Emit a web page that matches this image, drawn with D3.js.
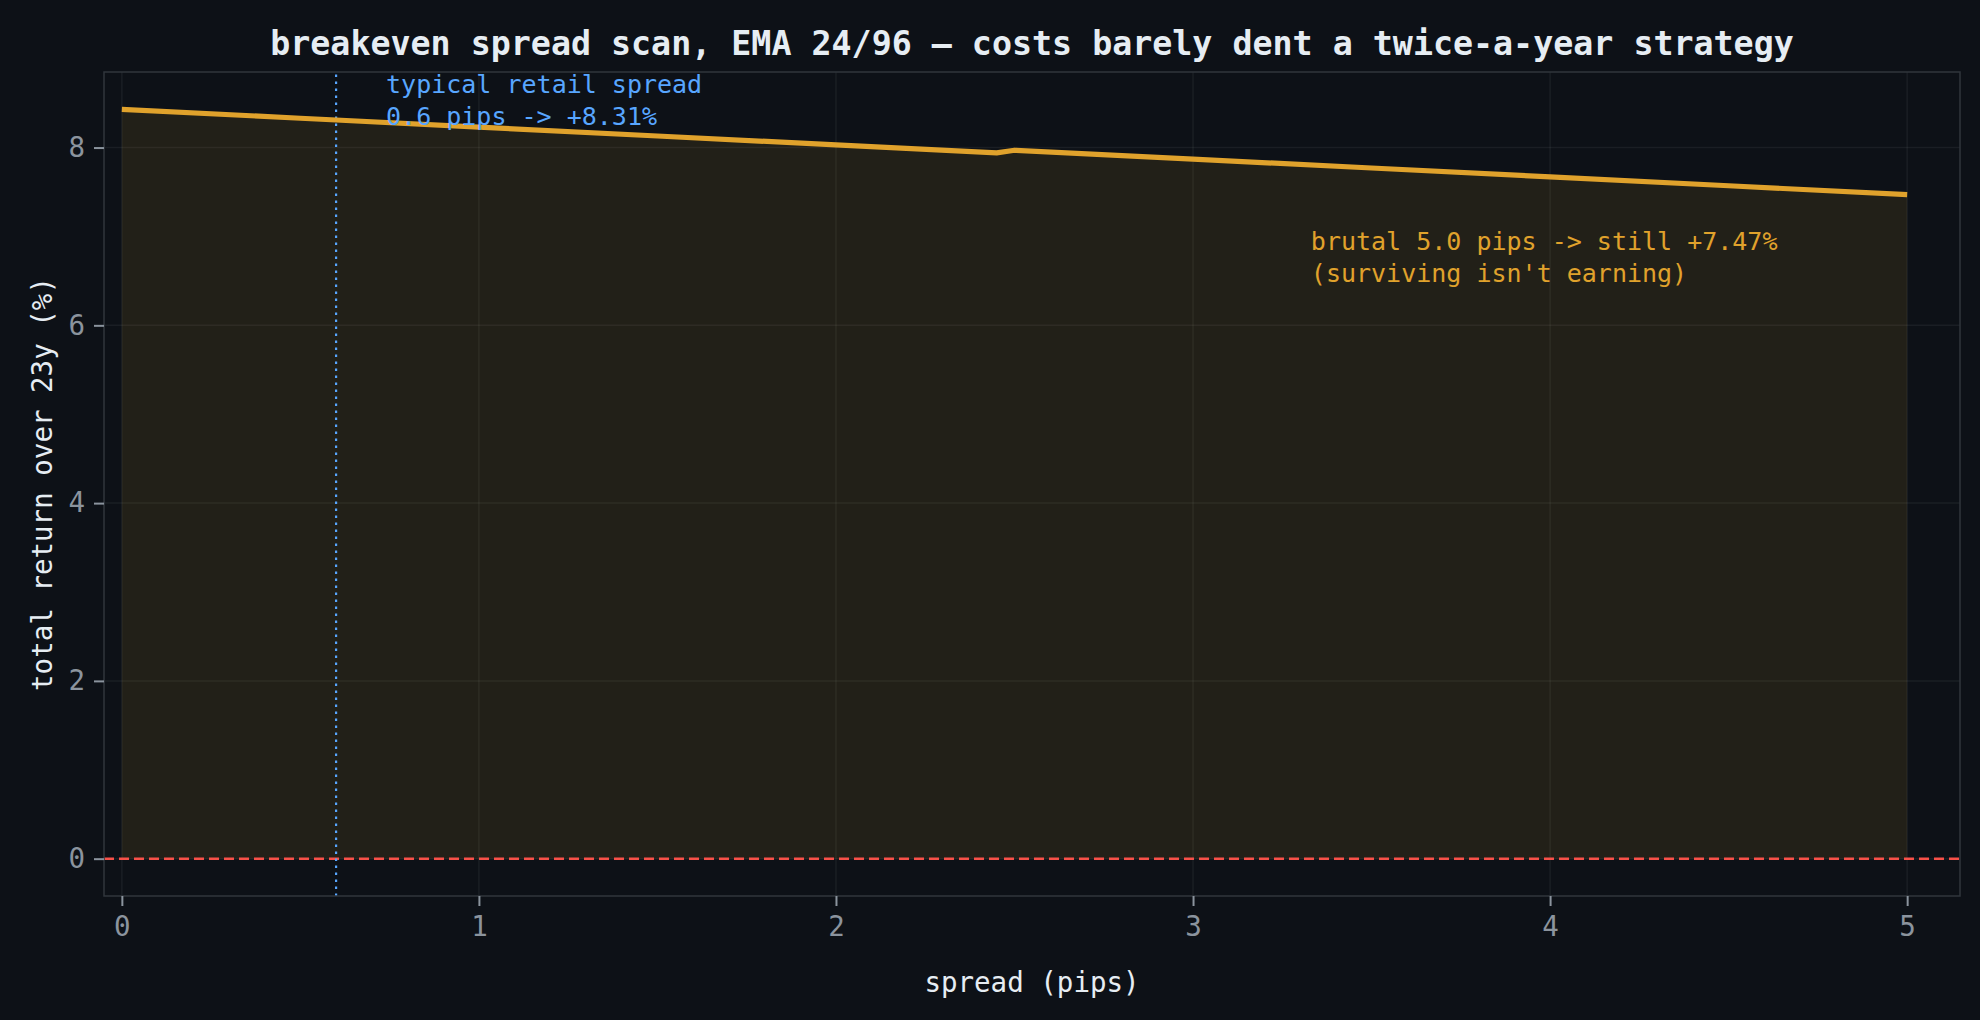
<!DOCTYPE html>
<html>
<head>
<meta charset="utf-8">
<script src="https://cdn.jsdelivr.net/npm/d3@7"></script>
<style>
  html, body { margin: 0; padding: 0; background: #0d1117; }
  svg { display: block; }
</style>
</head>
<body>
<script>
//spread scan values
var spreads = [0, 0.5, 0.6, 1.0, 1.5, 2.0, 2.45, 2.5, 3.0, 3.5, 4.0, 4.5, 5.0];
var returns = [8.43, 8.33, 8.31, 8.23, 8.13, 8.03, 7.94, 7.97, 7.87, 7.77, 7.67, 7.57, 7.47];
var xTicks = [0, 1, 2, 3, 4, 5];
var yTicks = [0, 2, 4, 6, 8];
var typicalSpread = 0.6;

//begin script when window loads
window.onload = drawChart();

function drawChart(){

    var width = 1980,
        height = 1020;

    var margin = {top: 72, right: 20, bottom: 124, left: 104};

    var svg = d3.select('body')
        .append('svg')
        .attr('width', width)
        .attr('height', height)
        .style('font-family', '"DejaVu Sans Mono", "Liberation Mono", monospace');

    svg.append('rect')
        .attr('width', width)
        .attr('height', height)
        .attr('fill', '#0d1117');

    var x = d3.scaleLinear()
        .domain([-0.05, 5.148])
        .range([margin.left, width - margin.right]);

    var y = d3.scaleLinear()
        .domain([-0.42, 8.85])
        .range([height - margin.bottom, margin.top]);

    var data = spreads.map(function(s, i){
        return {s: s, r: returns[i]};
    });

    //grid
    svg.append('g')
        .selectAll('line')
        .data(xTicks)
        .enter()
        .append('line')
        .attr('x1', function(d){ return x(d); })
        .attr('x2', function(d){ return x(d); })
        .attr('y1', y.range()[0])
        .attr('y2', y.range()[1])
        .attr('stroke', '#c9d1d9')
        .attr('stroke-opacity', 0.07)
        .attr('stroke-width', 1.5);

    svg.append('g')
        .selectAll('line')
        .data(yTicks)
        .enter()
        .append('line')
        .attr('x1', x.range()[0])
        .attr('x2', x.range()[1])
        .attr('y1', function(d){ return y(d); })
        .attr('y2', function(d){ return y(d); })
        .attr('stroke', '#c9d1d9')
        .attr('stroke-opacity', 0.07)
        .attr('stroke-width', 1.5);

    //filled area under the curve
    var area = d3.area()
        .x(function(d){ return x(d.s); })
        .y0(y(0))
        .y1(function(d){ return y(d.r); });

    svg.append('path')
        .datum(data)
        .attr('d', area)
        .attr('fill', '#e0a22c')
        .attr('fill-opacity', 0.1);

    //breakeven line at zero
    svg.append('line')
        .attr('x1', x.range()[0])
        .attr('x2', x.range()[1])
        .attr('y1', y(0))
        .attr('y2', y(0))
        .attr('stroke', '#f85149')
        .attr('stroke-width', 2.5)
        .attr('stroke-dasharray', '10,5');

    //typical spread marker
    svg.append('line')
        .attr('x1', x(typicalSpread))
        .attr('x2', x(typicalSpread))
        .attr('y1', y.range()[0])
        .attr('y2', y.range()[1])
        .attr('stroke', '#58a6ff')
        .attr('stroke-width', 2.2)
        .attr('stroke-dasharray', '2.5,4.5');

    //return line
    var line = d3.line()
        .x(function(d){ return x(d.s); })
        .y(function(d){ return y(d.r); });

    svg.append('path')
        .datum(data)
        .attr('d', line)
        .attr('fill', 'none')
        .attr('stroke', '#e0a22c')
        .attr('stroke-width', 5.2)
        .attr('stroke-linejoin', 'round');

    //frame
    svg.append('rect')
        .attr('x', x.range()[0])
        .attr('y', y.range()[1])
        .attr('width', x.range()[1] - x.range()[0])
        .attr('height', y.range()[0] - y.range()[1])
        .attr('fill', 'none')
        .attr('stroke', '#30363d')
        .attr('stroke-width', 1.5);

    //axes
    var xAxis = svg.append('g')
        .attr('transform', 'translate(0,' + y.range()[0] + ')')
        .call(d3.axisBottom(x).tickValues(xTicks).tickSize(10).tickPadding(10).tickFormat(d3.format('d')));

    var yAxis = svg.append('g')
        .attr('transform', 'translate(' + x.range()[0] + ',0)')
        .call(d3.axisLeft(y).tickValues(yTicks).tickSize(10).tickPadding(9).tickFormat(d3.format('d')));

    [xAxis, yAxis].forEach(function(a){
        a.select('.domain').remove();
        a.selectAll('.tick line').attr('stroke', '#8b949e').attr('stroke-width', 2);
        a.selectAll('.tick text')
            .attr('fill', '#8b949e')
            .style('font-size', '27.5px')
            .style('font-family', '"DejaVu Sans Mono", monospace');
    });

    //axis labels
    svg.append('text')
        .attr('x', (x.range()[0] + x.range()[1]) / 2)
        .attr('y', 992)
        .attr('text-anchor', 'middle')
        .attr('fill', '#e6edf3')
        .style('font-size', '27.5px')
        .text('spread (pips)');

    svg.append('text')
        .attr('transform', 'translate(52,' + (y.range()[0] + y.range()[1]) / 2 + ') rotate(-90)')
        .attr('text-anchor', 'middle')
        .attr('fill', '#e6edf3')
        .style('font-size', '27.5px')
        .text('total return over 23y (%)');

    //title
    svg.append('text')
        .attr('x', (x.range()[0] + x.range()[1]) / 2)
        .attr('y', 55)
        .attr('text-anchor', 'middle')
        .attr('fill', '#e6edf3')
        .style('font-size', '33.3px')
        .style('font-weight', 'bold')
        .text('breakeven spread scan, EMA 24/96 \u2014 costs barely dent a twice-a-year strategy');

    //annotations
    var blueNote = svg.append('text')
        .attr('fill', '#58a6ff')
        .style('font-size', '25px');
    blueNote.append('tspan').attr('x', x(0.74)).attr('y', 93).text('typical retail spread');
    blueNote.append('tspan').attr('x', x(0.74)).attr('y', 125).text('0.6 pips -> +8.31%');

    var orangeNote = svg.append('text')
        .attr('fill', '#e0a22c')
        .style('font-size', '25px');
    orangeNote.append('tspan').attr('x', x(3.33)).attr('y', 250).text('brutal 5.0 pips -> still +7.47%');
    orangeNote.append('tspan').attr('x', x(3.33)).attr('y', 282).text("(surviving isn't earning)");
};
</script>
</body>
</html>
